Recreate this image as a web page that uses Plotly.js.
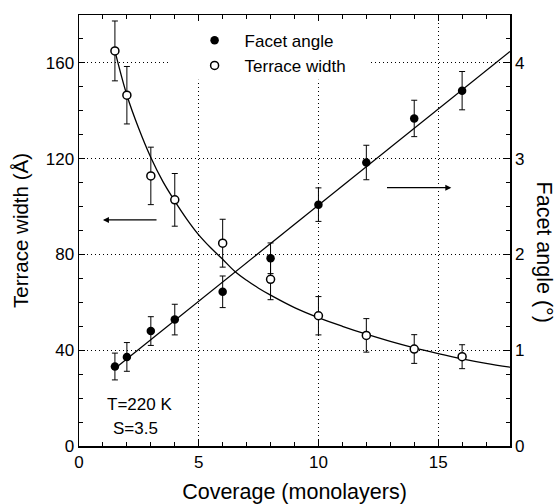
<!DOCTYPE html>
<html>
<head>
<meta charset="utf-8">
<script src="https://cdn.plot.ly/plotly-3.0.1.min.js"></script>
<style>html,body{margin:0;padding:0;background:#fff;}#chart{width:557px;height:504px;}</style>
</head>
<body>
<div id="chart"></div>
<script>
// ---- data ----
var coverage      = [1.5, 2, 3, 4, 6, 8, 10, 12, 14, 16];
var terraceWidth  = [165, 146.5, 112.8, 102.8, 84.7, 69.6, 54.4, 46.2, 40.5, 37.3];
var terraceErr    = [12.5, 12, 12, 11, 10, 8.5, 8, 7, 6, 5];
var facetAngle    = [0.83, 0.93, 1.20, 1.32, 1.61, 1.96, 2.52, 2.96, 3.42, 3.71];
var facetErr      = [0.14, 0.15, 0.15, 0.16, 0.165, 0.16, 0.175, 0.18, 0.19, 0.20];
var terraceFitX   = [1.5, 2, 2.5, 3, 3.5, 4, 4.5, 5, 5.5, 6, 6.5, 7, 7.5, 8, 9, 10, 11, 12, 13, 14, 15, 16, 17, 18];
var terraceFitY   = [165, 146.5, 132.5, 120.5, 110.5, 102.3, 94.8, 88.2, 82.8, 78.0, 73.0, 69.2, 65.9, 63.0, 57.8, 53.6, 50.0, 46.7, 43.7, 41.0, 38.6, 36.4, 34.5, 32.9];
var facetFitX     = [1.5, 18];
var facetFitY     = [0.81, 4.12];
var legendNames   = ['Facet angle', 'Terrace width'];
var axisTitles    = {x: 'Coverage (monolayers)', y: 'Terrace width (Å)', y2: 'Facet angle (°)'};
var notes         = ['T=220 K', 'S=3.5'];

var FONT = 'Liberation Sans, Arial, Helvetica, sans-serif';

var traces = [
  {x: terraceFitX, y: terraceFitY, mode: 'lines', line: {color: '#000', width: 1.3, shape: 'spline'},
   showlegend: false, hoverinfo: 'skip', yaxis: 'y'},
  {x: facetFitX, y: facetFitY, mode: 'lines', line: {color: '#000', width: 1.3},
   showlegend: false, hoverinfo: 'skip', yaxis: 'y2'},
  {x: coverage, y: facetAngle, name: legendNames[0], mode: 'markers', yaxis: 'y2',
   marker: {symbol: 'circle', size: 8.5, color: '#000'},
   error_y: {type: 'data', array: facetErr, visible: true, color: '#000', thickness: 1, width: 3}},
  {x: coverage, y: terraceWidth, name: legendNames[1], mode: 'markers', yaxis: 'y',
   marker: {symbol: 'circle', size: 8, color: '#fff', line: {color: '#000', width: 1.5}},
   error_y: {type: 'data', array: terraceErr, visible: true, color: '#000', thickness: 1, width: 3}}
];

var axisCommon = {
  showline: true, linecolor: '#000', linewidth: 1.5,
  ticks: 'inside', ticklen: 6, tickwidth: 1, tickcolor: '#000',
  tickfont: {family: FONT, size: 17, color: '#000'},
  zeroline: false
};

var layout = {
  width: 557, height: 504,
  margin: {l: 79, r: 47, t: 15, b: 58},
  paper_bgcolor: '#fff', plot_bgcolor: '#fff',
  font: {family: FONT, color: '#000'},
  showlegend: true,
  legend: {x: 0.245, y: 0.982, xanchor: 'left', yanchor: 'top', bgcolor: 'rgba(0,0,0,0)',
           borderwidth: 0, itemwidth: 50, font: {family: FONT, size: 17, color: '#000'}},
  xaxis: Object.assign({}, axisCommon, {
    range: [0, 18], tick0: 0, dtick: 5, mirror: 'ticks',
    showgrid: true, gridcolor: '#000', gridwidth: 1, griddash: '1px,3px',
    minor: {dtick: 1, ticks: 'inside', ticklen: 4, tickcolor: '#000', showgrid: false},
    title: {text: axisTitles.x, font: {family: FONT, size: 21.5, color: '#000'}}
  }),
  yaxis: Object.assign({}, axisCommon, {
    range: [0, 180], tick0: 0, dtick: 40,
    showgrid: true, gridcolor: '#000', gridwidth: 1, griddash: '1px,3px',
    minor: {dtick: 10, ticks: 'inside', ticklen: 4, tickcolor: '#000', showgrid: false},
    title: {text: axisTitles.y, font: {family: FONT, size: 20.5, color: '#000'}}
  }),
  yaxis2: Object.assign({}, axisCommon, {
    overlaying: 'y', side: 'right', range: [0, 4.5], tick0: 0, dtick: 1,
    showgrid: false,
    minor: {dtick: 0.25, ticks: 'inside', ticklen: 4, tickcolor: '#000', showgrid: false}
  }),
  shapes: [
    {type: 'rect', xref: 'x', yref: 'y', x0: 3.8, x1: 12.1, y0: 153, y1: 177,
     fillcolor: '#fff', line: {width: 0}, layer: 'between'}
  ],
  annotations: [
    {xref: 'x', yref: 'y', axref: 'x', ayref: 'y', x: 1.0, y: 94.4, ax: 3.3, ay: 94.4,
     text: '', showarrow: true, arrowhead: 2, arrowsize: 1, arrowwidth: 1.2, arrowcolor: '#000'},
    {xref: 'x', yref: 'y', axref: 'x', ayref: 'y', x: 15.55, y: 107.9, ax: 12.8, ay: 107.9,
     text: '', showarrow: true, arrowhead: 2, arrowsize: 1, arrowwidth: 1.2, arrowcolor: '#000'},
    {xref: 'x', yref: 'y', x: 2.54, y: 17.3, text: notes[0], showarrow: false,
     font: {family: FONT, size: 17, color: '#000'}},
    {xref: 'x', yref: 'y', x: 2.35, y: 7.5, text: notes[1], showarrow: false,
     font: {family: FONT, size: 17, color: '#000'}},
    {xref: 'paper', yref: 'paper', x: 1.079, y: 0.451, xanchor: 'center', yanchor: 'middle',
     text: axisTitles.y2, showarrow: false,
     textangle: 90, font: {family: FONT, size: 21.5, color: '#000'}}
  ]
};

Plotly.newPlot('chart', traces, layout, {displayModeBar: false, staticPlot: true});
</script>
</body>
</html>
